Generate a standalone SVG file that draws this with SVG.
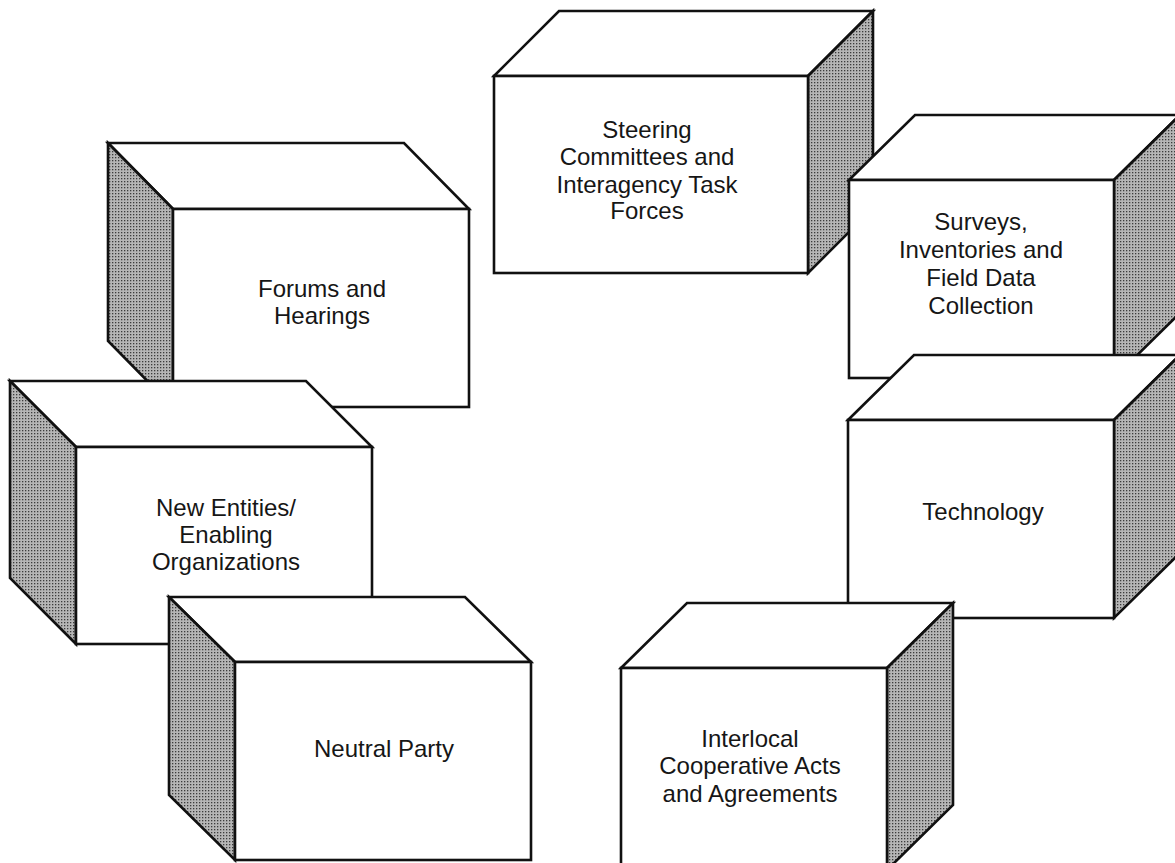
<svg xmlns="http://www.w3.org/2000/svg" width="1175" height="863" viewBox="0 0 1175 863">
  <defs>
    <!-- halftone dot screen for the shaded side faces -->
    <pattern id="dots" width="3" height="3" patternUnits="userSpaceOnUse">
      <rect width="3" height="3" fill="#b6b6b6"/>
      <rect x="1" y="1" width="1.3" height="1.3" fill="#3c3c3c"/>
    </pattern>
    <style>
      .face { fill: #ffffff; stroke: #111; stroke-width: 2.6; stroke-linejoin: miter; }
      .side { fill: url(#dots); stroke: #111; stroke-width: 2.6; stroke-linejoin: miter; }
      .lbl  { font-family: "Liberation Sans", Arial, Helvetica, sans-serif; font-size: 24px; fill: #161616; text-anchor: middle; }
    </style>
  </defs>
  <rect width="1175" height="863" fill="#ffffff"/>

  <!-- left-hand column: boxes whose shaded side faces left -->
  <g id="forums">
    <polygon class="face" points="173,209 108,143 404,143 469,209"/>
    <polygon class="side" points="173,209 108,143 108,341 173,407"/>
    <rect class="face" x="173" y="209" width="296" height="198"/>
    <text class="lbl" x="322" y="297">Forums and</text>
    <text class="lbl" x="322" y="324">Hearings</text>
  </g>

  <g id="new-entities">
    <polygon class="face" points="76,447 10,381 306,381 372,447"/>
    <polygon class="side" points="76,447 10,381 10,578 76,644"/>
    <rect class="face" x="76" y="447" width="296" height="197"/>
    <text class="lbl" x="226" y="516">New Entities/</text>
    <text class="lbl" x="226" y="543">Enabling</text>
    <text class="lbl" x="226" y="570">Organizations</text>
  </g>

  <g id="neutral-party">
    <polygon class="face" points="235,662 169,597 465,597 531,662"/>
    <polygon class="side" points="235,662 169,597 169,795 235,860"/>
    <rect class="face" x="235" y="662" width="296" height="198"/>
    <text class="lbl" x="384" y="757">Neutral Party</text>
  </g>

  <!-- right-hand arc: boxes whose shaded side faces right -->
  <g id="steering">
    <polygon class="face" points="494,76 559,11 873,11 808,76"/>
    <polygon class="side" points="808,76 873,11 873,208 808,273"/>
    <rect class="face" x="494" y="76" width="314" height="197"/>
    <text class="lbl" x="647" y="138">Steering</text>
    <text class="lbl" x="647" y="165">Committees and</text>
    <text class="lbl" x="647" y="193">Interagency Task</text>
    <text class="lbl" x="647" y="219">Forces</text>
  </g>

  <g id="surveys">
    <polygon class="face" points="849,180 915,115 1180,115 1114,180"/>
    <polygon class="side" points="1114,180 1180,115 1180,313 1114,378"/>
    <rect class="face" x="849" y="180" width="265" height="198"/>
    <text class="lbl" x="981" y="230">Surveys,</text>
    <text class="lbl" x="981" y="258">Inventories and</text>
    <text class="lbl" x="981" y="286">Field Data</text>
    <text class="lbl" x="981" y="314">Collection</text>
  </g>

  <g id="technology">
    <polygon class="face" points="848,420 914,355 1180,355 1114,420"/>
    <polygon class="side" points="1114,420 1180,355 1180,553 1114,618"/>
    <rect class="face" x="848" y="420" width="266" height="198"/>
    <text class="lbl" x="983" y="520">Technology</text>
  </g>

  <g id="interlocal">
    <polygon class="face" points="621,668 687,603 953,603 887,668"/>
    <polygon class="side" points="887,668 953,603 953,805 887,870"/>
    <rect class="face" x="621" y="668" width="266" height="205"/>
    <text class="lbl" x="750" y="747">Interlocal</text>
    <text class="lbl" x="750" y="774">Cooperative Acts</text>
    <text class="lbl" x="750" y="802">and Agreements</text>
  </g>
</svg>
